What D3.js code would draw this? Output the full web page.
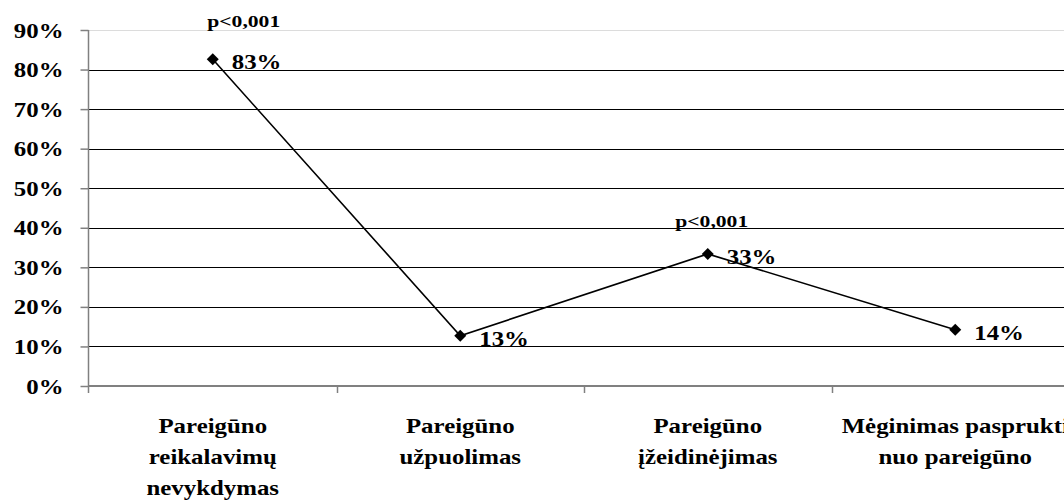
<!DOCTYPE html>
<html>
<head>
<meta charset="utf-8">
<script src="https://cdn.jsdelivr.net/npm/d3@7"></script>
<style>
  body { margin: 0; background: #fff; }
  svg { display: block; }
  text { font-family: "Liberation Serif", "Times New Roman", serif; font-weight: bold; fill: #000; }
</style>
</head>
<body>
<div id="chart"></div>
<script>
// categories (one per x band), and how each label is broken into lines
var categories = ["Pareigūno reikalavimų nevykdymas", "Pareigūno užpuolimas",
                  "Pareigūno įžeidinėjimas", "Mėginimas pasprukti nuo pareigūno"];
var categoryLines = [["Pareigūno", "reikalavimų", "nevykdymas"],
                     ["Pareigūno", "užpuolimas"],
                     ["Pareigūno", "įžeidinėjimas"],
                     ["Mėginimas pasprukti", "nuo pareigūno"]];
// share of cases
var values = [0.826, 0.127, 0.334, 0.142];
// significance notes above some points
var pNotes = ["p<0,001", "", "p<0,001", ""];
var yTicks = [0, 0.1, 0.2, 0.3, 0.4, 0.5, 0.6, 0.7, 0.8, 0.9];

var W = 1064, H = 504;
var plotLeft = 89, plotTop = 30, plotBottom = 386;
var stretch = 1.13; // the original type is drawn wider than normal

var x = d3.scaleBand()
    .domain(categories)
    .range([plotLeft, 1079])
    .padding(0);
var y = d3.scaleLinear()
    .domain([0, 0.9])
    .range([plotBottom, plotTop]);

var pct = d3.format(".0%");

var svg = d3.select("#chart").append("svg")
    .attr("width", W)
    .attr("height", H);

// gridlines
svg.append("g")
    .selectAll("line")
    .data(yTicks.filter(function(d) { return d > 0; }))
    .enter().append("line")
    .attr("x1", plotLeft)
    .attr("x2", W)
    .attr("y1", function(d) { return Math.round(y(d)) + 0.5; })
    .attr("y2", function(d) { return Math.round(y(d)) + 0.5; })
    .attr("stroke", function(d) { return d === 0.9 ? "#dcdcdc" : "#000"; })
    .attr("stroke-width", 1);

// y axis
var yAxis = svg.append("g")
    .attr("transform", "translate(" + (plotLeft - 0.5) + ",0)")
    .call(d3.axisLeft(y).tickValues(yTicks).tickSize(8).tickSizeOuter(0).tickFormat(pct));
yAxis.select(".domain").remove();
yAxis.selectAll(".tick line").attr("stroke", "#808080").attr("stroke-width", 1.5);
yAxis.selectAll(".tick text")
    .attr("x", 0)
    .attr("dy", null)
    .attr("y", 0)
    .attr("font-size", 22)
    .attr("font-family", null)
    .attr("text-anchor", "end")
    .attr("transform", "translate(-25,7) scale(" + stretch + ",1)");
svg.append("line")
    .attr("x1", plotLeft - 0.5).attr("x2", plotLeft - 0.5)
    .attr("y1", plotTop).attr("y2", plotBottom + 7)
    .attr("stroke", "#808080").attr("stroke-width", 1.5);

// x axis line and ticks at band edges
svg.append("line")
    .attr("x1", plotLeft).attr("x2", W)
    .attr("y1", plotBottom).attr("y2", plotBottom)
    .attr("stroke", "#808080").attr("stroke-width", 2);
svg.append("g")
    .selectAll("line")
    .data(categories.slice(1))
    .enter().append("line")
    .attr("x1", function(d) { return Math.round(x(d)) + 0.5; })
    .attr("x2", function(d) { return Math.round(x(d)) + 0.5; })
    .attr("y1", plotBottom).attr("y2", plotBottom + 7)
    .attr("stroke", "#808080").attr("stroke-width", 1.5);

// category labels
var cx = function(d) { return x(d) + x.bandwidth() / 2; };
categories.forEach(function(c, i) {
    var g = svg.append("g")
        .attr("transform", "translate(" + cx(c) + ",433) scale(" + stretch + ",1)");
    g.selectAll("text")
        .data(categoryLines[i])
        .enter().append("text")
        .attr("text-anchor", "middle")
        .attr("font-size", 22)
        .attr("y", function(d, j) { return j * 31; })
        .text(function(d) { return d; });
});

// line
var line = d3.line()
    .x(function(d, i) { return cx(categories[i]); })
    .y(function(d) { return y(d); });
svg.append("path")
    .datum(values)
    .attr("d", line)
    .attr("fill", "none")
    .attr("stroke", "#000")
    .attr("stroke-width", 1.6);

// diamond markers
svg.selectAll(".marker")
    .data(values)
    .enter().append("path")
    .attr("class", "marker")
    .attr("d", d3.symbol(d3.symbolSquare, 72))
    .attr("transform", function(d, i) {
        return "translate(" + cx(categories[i]) + "," + y(d) + ") rotate(45)";
    })
    .attr("fill", "#000");

// value labels
svg.selectAll(".vlabel")
    .data(values)
    .enter().append("text")
    .attr("class", "vlabel")
    .attr("font-size", 22)
    .attr("transform", function(d, i) {
        return "translate(" + (cx(categories[i]) + 19) + "," + (y(d) + 10) + ") scale(" + stretch + ",1)";
    })
    .text(function(d) { return pct(d); });

// p-value notes
var noteShift = [[31, -32], [0, 0], [4, -27], [0, 0]];
svg.selectAll(".note")
    .data(values)
    .enter().append("text")
    .attr("class", "note")
    .attr("font-size", 17)
    .attr("text-anchor", "middle")
    .attr("transform", function(d, i) {
        return "translate(" + (cx(categories[i]) + noteShift[i][0]) + "," + (y(d) + noteShift[i][1]) + ") scale(1.27,1)";
    })
    .text(function(d, i) { return pNotes[i]; });
</script>
</body>
</html>
